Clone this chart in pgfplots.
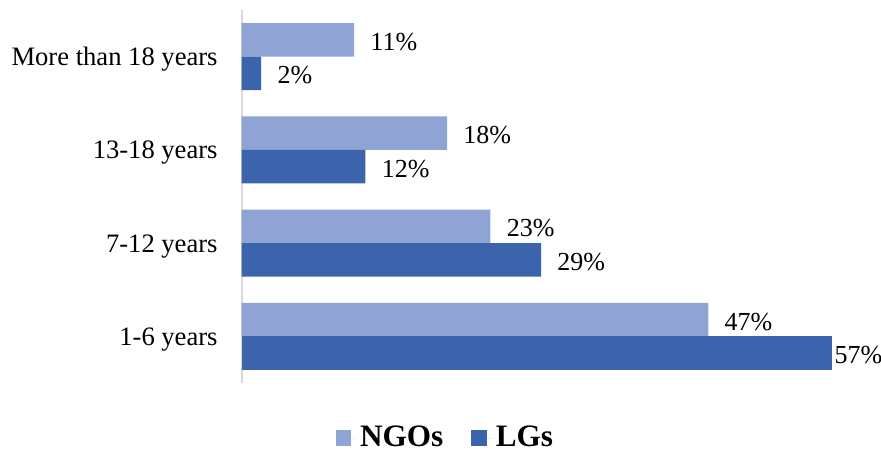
\documentclass[border=0pt]{standalone}
\usepackage{pgfplots}
\pgfplotsset{compat=1.18}
\usepackage{fontspec}
\setmainfont{Liberation Serif}
\definecolor{ngo}{RGB}{143,163,212}
\definecolor{lg}{RGB}{60,100,172}
\begin{document}
\begin{tikzpicture}
\begin{axis}[
  scale only axis,
  width=299.5pt, height=186.5pt,
  xmin=0, xmax=58, ymin=-0.5, ymax=3.5,
  xbar,
  bar width=0.359,
  hide x axis,
  axis y line=left,
  y axis line style={draw=black!15, line width=1pt, -},
  ytick={0,1,2,3},
  yticklabels={1-6 years,7-12 years,13-18 years,More than 18 years},
  major tick length=0pt,
  yticklabel style={inner sep=0pt, xshift=-11.75pt, yshift=-1.5pt, font=\fontsize{13.3}{15}\selectfont},
  point meta=explicit symbolic,
  nodes near coords,
  nodes near coords style={anchor=west, inner sep=0pt, xshift=8pt, yshift=-1pt, font=\fontsize{13}{15}\selectfont, text=black},
  legend style={at={(0.342,0)}, anchor=center, yshift=-27.5pt, draw=none,
    legend columns=2, font=\fontsize{15.6}{18}\selectfont\bfseries,
    /tikz/every even column/.append style={column sep=12pt}},
  legend image code/.code={\fill[#1] (0pt,-3.85pt) rectangle (7.7pt,3.85pt); \path (0pt,0pt) -- (10.2pt,0pt);},
  legend cell align=left,
]
\addplot[fill=ngo, draw=none, bar shift=0.18] coordinates {
  (45.2,0) [47\%]
  (24.1,1) [23\%]
  (19.9,2) [18\%]
  (10.9,3) [11\%]
};
\addlegendentry{NGOs}
\addplot[fill=lg, draw=none, bar shift=-0.18] coordinates {
  (29.0,1) [29\%]
  (12.0,2) [12\%]
  (1.9,3) [2\%]
};
\addlegendentry{LGs}
\addplot[fill=lg, draw=none, bar shift=-0.18, forget plot] coordinates {
  (57.2,0) [\kern-7pt 57\%]
};
\coordinate (O) at (rel axis cs:0,0);
\end{axis}
\pgfresetboundingbox
\path[use as bounding box] (O) ++(-120.75pt,-34.5pt) rectangle ++(440.5pt,226pt);
\end{tikzpicture}
\end{document}
